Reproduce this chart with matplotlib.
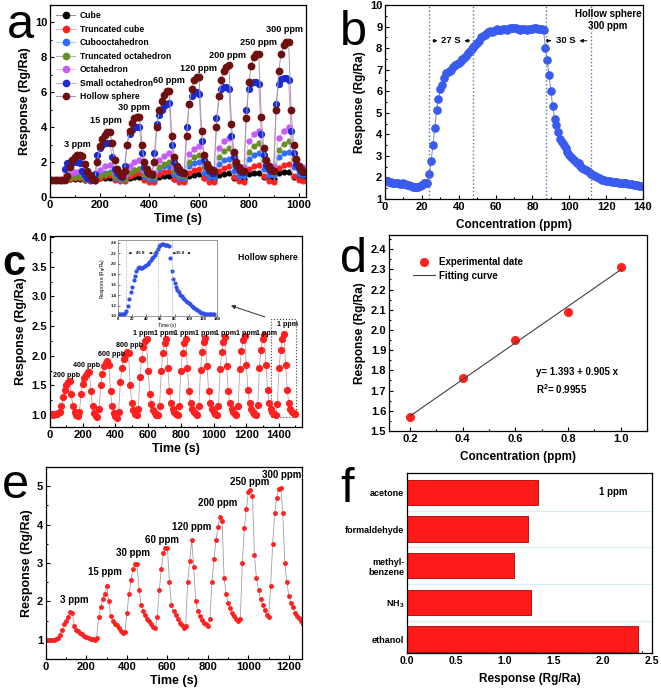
import numpy as np
import matplotlib
matplotlib.use("Agg")
from matplotlib import pyplot as plt
from matplotlib.ticker import MultipleLocator

plt.rcParams['font.family'] = ['Liberation Sans', 'DejaVu Sans']
plt.rcParams['font.weight'] = 'bold'
plt.rcParams['axes.labelweight'] = 'bold'
plt.rcParams['mathtext.fontset'] = 'custom'
plt.rcParams['mathtext.rm'] = 'Liberation Sans:bold'
plt.rcParams['mathtext.default'] = 'rm'

# ---------------- panel a : shapes, 3-300 ppm ----------------
time_a10 = np.arange(0, 1021, 10)
time_a20 = np.arange(0, 1021, 20)
a_labels = ['3 ppm', '15 ppm', '30 ppm', '60 ppm', '120 ppm', '200 ppm', '250 ppm', '300 ppm']
a_label_x = [109, 226, 339, 480, 598, 714, 838, 944]
a_label_y = [3.0, 4.4, 5.15, 6.7, 7.35, 8.1, 8.85, 9.6]

cube = [1.0, 1.0, 1.0,
        1.0, 1.03, 1.04, 1.05, 1.0, 1.0,
        1.0, 1.07, 1.09, 1.1, 1.02, 1.0,
        1.0, 1.1, 1.13, 1.15, 1.03, 1.0,
        1.0, 1.15, 1.18, 1.2, 1.05, 1.0,
        1.0, 1.22, 1.27, 1.3, 1.08, 1.02,
        1.02, 1.28, 1.33, 1.35, 1.1, 1.03,
        1.03, 1.33, 1.38, 1.4, 1.12, 1.05,
        1.04, 1.37, 1.42, 1.45, 1.15, 1.06,
        1.05]
truncated_cube = [1.0, 1.0, 1.0,
                  1.0, 1.05, 1.08, 1.1, 0.95, 0.92,
                  0.92, 1.1, 1.2, 1.25, 1.0, 0.9,
                  0.9, 1.2, 1.3, 1.35, 1.0, 0.88,
                  0.88, 1.3, 1.42, 1.5, 1.05, 0.88,
                  0.87, 1.4, 1.55, 1.6, 1.1, 0.88,
                  0.86, 1.5, 1.68, 1.75, 1.15, 0.9,
                  0.87, 1.6, 1.78, 1.85, 1.2, 0.92,
                  0.88, 1.65, 1.82, 1.9, 1.2, 0.95,
                  0.92]
cubooctahedron = [1.0, 1.0, 1.0,
                  1.0, 1.15, 1.2, 1.25, 1.05, 1.0,
                  1.0, 1.3, 1.4, 1.45, 1.1, 1.0,
                  1.02, 1.4, 1.55, 1.6, 1.2, 1.05,
                  1.05, 1.6, 1.75, 1.8, 1.3, 1.1,
                  1.1, 1.75, 1.95, 2.0, 1.4, 1.15,
                  1.15, 1.9, 2.1, 2.2, 1.5, 1.2,
                  1.2, 2.2, 2.4, 2.5, 1.6, 1.25,
                  1.25, 2.3, 2.5, 2.6, 1.7, 1.3,
                  1.25]
truncated_octahedron = [1.0, 1.0, 1.0,
                        1.0, 1.08, 1.12, 1.15, 1.05, 1.0,
                        1.0, 1.2, 1.3, 1.35, 1.15, 1.05,
                        1.05, 1.4, 1.52, 1.6, 1.3, 1.15,
                        1.15, 1.7, 1.9, 2.0, 1.5, 1.25,
                        1.2, 2.0, 2.3, 2.4, 1.7, 1.35,
                        1.3, 2.3, 2.65, 2.8, 1.9, 1.45,
                        1.35, 2.6, 2.95, 3.1, 2.1, 1.5,
                        1.4, 2.7, 3.05, 3.2, 2.2, 1.55,
                        1.45]
octahedron = [1.0, 1.0, 1.0,
              1.05, 1.3, 1.45, 1.5, 1.2, 1.05,
              1.1, 1.55, 1.75, 1.85, 1.4, 1.15,
              1.25, 1.8, 2.0, 2.1, 1.55, 1.25,
              1.4, 2.1, 2.35, 2.5, 1.75, 1.4,
              1.45, 2.45, 2.75, 2.9, 1.95, 1.55,
              1.6, 2.8, 3.2, 3.4, 2.2, 1.65,
              1.7, 3.2, 3.6, 3.8, 2.4, 1.75,
              1.8, 3.4, 3.8, 4.0, 2.5, 1.85,
              1.7]
small_octahedron = [1.0, 1.0, 1.0, 1.0, 1.0, 1.0,
                    1.6, 1.95, 2.0, 2.0, 2.0, 2.0, 1.95, 1.5, 1.25, 1.1, 1.05, 1.0,
                    1.3, 2.4, 2.8, 3.0, 3.1, 3.1, 3.1, 2.3, 1.6, 1.35, 1.2, 1.15,
                    1.8, 3.0, 3.6, 3.85, 4.0, 4.0, 4.0, 2.5, 1.7, 1.45, 1.3, 1.25,
                    2.5, 4.2, 4.7, 5.0, 5.2, 5.35, 5.4, 3.0, 2.0, 1.6, 1.45, 1.35,
                    1.35, 4.0, 5.3, 5.8, 5.95, 6.0, 5.9, 3.2, 2.1, 1.7, 1.5, 1.4,
                    1.4, 4.5, 5.8, 6.2, 6.3, 6.3, 6.2, 3.5, 2.3, 1.8, 1.55, 1.45,
                    1.45, 5.0, 6.2, 6.55, 6.6, 6.6, 6.5, 3.6, 2.4, 1.85, 1.6, 1.5,
                    1.5, 5.3, 6.5, 6.75, 6.8, 6.8, 6.7, 3.8, 2.5, 1.9, 1.65, 1.5,
                    1.45]
hollow_sphere = [1.0, 1.0, 1.0, 1.0, 1.0, 1.0,
                 1.0, 1.2, 1.7, 2.1, 2.3, 2.4, 2.4, 2.35, 1.9, 1.5, 1.25, 1.1,
                 1.0, 2.0, 2.9, 3.3, 3.55, 3.7, 3.75, 3.1, 2.1, 1.6, 1.35, 1.2,
                 1.5, 3.0, 3.8, 4.25, 4.5, 4.6, 4.6, 3.0, 2.0, 1.6, 1.4, 1.3,
                 2.0, 4.0, 5.0, 5.5, 5.85, 6.05, 6.1, 3.5, 2.3, 1.8, 1.6, 1.45,
                 1.4, 3.5, 5.3, 6.2, 6.7, 6.85, 6.85, 3.8, 2.4, 1.9, 1.65, 1.55,
                 1.5, 4.0, 5.8, 6.7, 7.2, 7.45, 7.55, 4.2, 2.6, 2.0, 1.7, 1.55,
                 1.5, 4.5, 6.6, 7.5, 8.0, 8.2, 8.2, 4.6, 2.8, 2.1, 1.8, 1.6,
                 1.5, 5.0, 7.2, 8.2, 8.7, 8.9, 8.9, 5.0, 3.0, 2.2, 1.8, 1.6,
                 1.45]

# ---------------- panel b : hollow sphere 300 ppm ----------------
b_x = np.arange(0, 141, 1)
b_y = [1.84, 1.82, 1.8, 1.79, 1.76, 1.74, 1.73, 1.72, 1.71, 1.7,
       1.72, 1.7, 1.66, 1.64, 1.6, 1.57, 1.55, 1.56, 1.58, 1.6,
       1.66, 1.72, 1.76, 1.73, 2.15, 2.75, 3.5, 4.3, 5.15, 5.65,
       6.1, 6.3, 6.6, 6.85, 6.9, 6.95, 7.0, 7.1, 7.2, 7.25,
       7.3, 7.4, 7.5, 7.55, 7.65, 7.75, 7.85, 7.95, 8.05, 8.15,
       8.25, 8.35, 8.5, 8.55, 8.6, 8.65, 8.75, 8.8, 8.75, 8.8,
       8.85, 8.9, 8.85, 8.85, 8.9, 8.9, 8.85, 8.9, 8.95, 8.95,
       8.95, 8.95, 8.9, 8.85, 8.9, 8.9, 8.9, 8.85, 8.9, 8.9,
       8.9, 8.95, 8.95, 8.9, 8.9, 8.9, 8.85, 8.0, 7.45, 6.75,
       6.0, 5.3, 4.7, 4.45, 4.1, 3.8, 3.65, 3.5, 3.35, 3.2,
       3.05, 2.95, 2.85, 2.75, 2.68, 2.65, 2.55, 2.45, 2.38, 2.33,
       2.28, 2.22, 2.15, 2.1, 2.05, 2.0, 1.97, 1.93, 1.9, 1.87,
       1.85, 1.83, 1.82, 1.8, 1.8, 1.78, 1.77, 1.76, 1.75, 1.74,
       1.73, 1.72, 1.71, 1.7, 1.68, 1.67, 1.65, 1.64, 1.62, 1.61,
       1.6]
b_lines = [24, 48, 87.5, 111.5]

# ---------------- panel c : hollow sphere 200 ppb - 1 ppm ----------------
c_t = np.arange(0, 1501, 10)
c_y = [1.02, 1.02, 1.01, 1.02, 1.02, 1.03,
       1.05, 1.15, 1.3, 1.42, 1.5, 1.55, 1.57, 1.35, 1.15, 1.05, 1.0, 0.98,
       1.05, 1.35, 1.52, 1.62, 1.68, 1.72, 1.73, 1.4, 1.15, 1.03, 0.98, 0.97,
       1.1, 1.5, 1.7, 1.82, 1.88, 1.92, 1.85, 1.4, 1.15, 1.03, 0.98, 0.95,
       1.05, 1.55, 1.8, 1.95, 2.02, 2.06, 2.05, 1.5, 1.2, 1.08, 1.02, 1.0,
       1.1, 1.65, 1.95, 2.15, 2.25, 2.28, 1.75, 1.35, 1.18, 1.08, 1.03, 1.0,
       1.0, 1.15, 1.75, 2.05, 2.22, 2.28, 1.8, 1.4, 1.2, 1.1, 1.05, 1.02,
       1.0, 1.15, 1.75, 2.05, 2.22, 2.29, 1.8, 1.4, 1.2, 1.1, 1.05, 1.02,
       1.0, 1.15, 1.76, 2.06, 2.23, 2.30, 1.82, 1.4, 1.2, 1.1, 1.05, 1.02,
       1.0, 1.15, 1.77, 2.07, 2.24, 2.31, 1.82, 1.4, 1.2, 1.1, 1.05, 1.02,
       1.0, 1.16, 1.78, 2.08, 2.26, 2.33, 1.85, 1.42, 1.2, 1.1, 1.05, 1.02,
       1.0, 1.17, 1.8, 2.1, 2.28, 2.35, 1.85, 1.42, 1.2, 1.1, 1.05, 1.02,
       1.0, 1.18, 1.8, 2.1, 2.29, 2.36, 1.85, 1.42, 1.2, 1.1, 1.05, 1.03,
       1.02]
c_labels = ['200 ppb', '400 ppb', '600 ppb', '800 ppb'] + ['1 ppm'] * 8
c_label_x = [101, 223, 375, 487, 575, 700, 825, 950, 1075, 1200, 1325, 1455]
c_label_y = [1.67, 1.84, 2.02, 2.18] + [2.37] * 7 + [2.52]

inset_t = np.arange(0, 137, 2)
inset_y = [1.03, 1.03, 1.03, 1.03, 1.04, 1.05, 1.1, 1.2, 1.32, 1.45,
           1.56, 1.68, 1.77, 1.85, 1.92, 1.93, 1.92, 1.92, 1.93, 1.96,
           1.98, 2.0, 2.03, 2.06, 2.1, 2.13, 2.17, 2.22, 2.28, 2.33,
           2.36, 2.37, 2.37, 2.36, 2.36, 2.35, 2.34, 2.1, 1.85, 1.7,
           1.62, 1.55, 1.5, 1.45, 1.41, 1.38, 1.35, 1.32, 1.29, 1.26,
           1.24, 1.22, 1.2, 1.18, 1.16, 1.13, 1.11, 1.09, 1.07, 1.06,
           1.05, 1.04, 1.03, 1.03, 1.03, 1.03, 1.03, 1.03, 1.03]

# ---------------- panel d : linear fit ----------------
d_conc = [0.2, 0.4, 0.6, 0.8, 1.0]
d_resp = [1.57, 1.76, 1.95, 2.09, 2.31]
fit_a, fit_b = 1.393, 0.905

# ---------------- panel e : 3-300 ppm ----------------
e_t = np.arange(0, 1271, 10)
e_y = [1.0, 0.99, 0.99, 0.99, 1.0, 1.02, 1.05, 1.12, 1.25, 1.42,
       1.5, 1.6, 1.72, 1.7, 1.35, 1.25, 1.22, 1.18, 1.15, 1.1,
       1.08, 1.05, 1.03, 1.02, 1.0, 1.05, 1.6, 1.85, 2.05, 2.2,
       2.4, 2.0, 1.62, 1.5, 1.42, 1.38, 1.3, 1.22, 1.17, 1.2,
       1.7, 2.2, 2.55, 2.85, 2.97, 2.97, 2.3, 1.9, 1.75, 1.65,
       1.55, 1.48, 1.4, 1.33, 1.3, 1.6, 2.3, 2.85, 3.25, 3.38,
       3.38, 2.5, 1.9, 1.75, 1.65, 1.55, 1.45, 1.38, 1.3, 1.35,
       2.5, 3.05, 3.6, 2.9, 2.0, 1.75, 1.62, 1.52, 1.45, 1.4,
       1.36, 1.55, 2.5, 3.1, 3.6, 3.95, 4.2, 4.1, 2.6, 2.2,
       1.95, 1.82, 1.7, 1.62, 1.55, 1.5, 1.55, 3.0, 3.9, 4.4,
       4.85, 4.9, 4.75, 3.2, 2.6, 2.3, 2.05, 1.9, 1.78, 1.65,
       1.6, 2.4, 3.5, 4.3, 4.7, 4.93, 4.95, 4.3, 3.0, 2.5,
       2.15, 1.95, 1.85, 1.7, 1.62, 1.58, 1.5, 1.42]
e_labels = ['3 ppm', '15 ppm', '30 ppm', '60 ppm', '120 ppm', '200 ppm', '250 ppm', '300 ppm']
e_label_x = [138, 291, 428, 571, 719, 848, 1004, 1164]
e_label_y = [2.03, 2.77, 3.26, 3.61, 3.94, 4.57, 5.1, 5.28]

# ---------------- panel f : selectivity ----------------
gases = ['ethanol', 'NH$_3$', 'methyl-\nbenzene', 'formaldehyde', 'acetone']
gas_resp = [2.36, 1.27, 1.09, 1.23, 1.34]


def style(ax, fs=8):
    ax.tick_params(direction='in', which='both', top=False, right=False,
                   labelsize=fs, width=0.8, pad=2)
    ax.tick_params(which='major', length=3)
    ax.tick_params(which='minor', length=1.6)
    for s in ax.spines.values():
        s.set_linewidth(0.9)


def arrow(ax, x0, x1, y, lw=0.7, ms=5):
    # small arrow, head at x1
    ax.annotate('', xy=(x1, y), xytext=(x0, y),
                arrowprops=dict(arrowstyle='-|>', color='black', lw=lw, mutation_scale=ms))


fig = plt.figure(figsize=(6.61, 6.91), dpi=100)

# a
ax = fig.add_axes([0.0756, 0.7149, 0.3873, 0.2779])
series = [
    ('Cube', cube, time_a20, 'black', '#8a96a8', 3.4),
    ('Truncated cube', truncated_cube, time_a20, '#ff2020', '#f2a6b6', 3.4),
    ('Cubooctahedron', cubooctahedron, time_a20, '#2f6bff', '#a6cde6', 3.4),
    ('Truncated octahedron', truncated_octahedron, time_a20, '#6b8e23', '#a8b4c4', 3.4),
    ('Octahedron', octahedron, time_a20, '#c45cf5', '#e3b6f2', 3.6),
    ('Small octahedron', small_octahedron, time_a10, '#1b2bd0', '#e394c6', 4.2),
    ('Hollow sphere', hollow_sphere, time_a10, '#6e1010', '#9a9ab8', 4.6),
]
for name, vals, tt, mc, lc, ms in series:
    ax.plot(tt, vals, '-o', color=lc, mfc=mc, mec=mc, ms=ms, lw=0.7, label=name)
for lab, x, y in zip(a_labels, a_label_x, a_label_y):
    ax.text(x, y, lab, ha='center', va='center', fontsize=6.6)
leg = ax.legend(loc='upper left', frameon=False, fontsize=6.2, handlelength=2.2,
                labelspacing=0.52, borderaxespad=0.35, handletextpad=0.5,
                bbox_to_anchor=(0.0, 1.0))
for h in leg.legend_handles:
    h.set_markersize(4.5)
ax.set_xlim(0, 1030)
ax.set_ylim(0, 11)
ax.xaxis.set_major_locator(MultipleLocator(200))
ax.xaxis.set_minor_locator(MultipleLocator(100))
ax.yaxis.set_major_locator(MultipleLocator(2))
ax.yaxis.set_minor_locator(MultipleLocator(1))
ax.set_xlabel('Time (s)', fontsize=9, labelpad=2)
ax.set_ylabel('Response (Rg/Ra)', fontsize=9, labelpad=3)
style(ax)

# b
ax = fig.add_axes([0.5825, 0.712, 0.3903, 0.2808])
ax.plot(b_x, b_y, '-o', color='#7f8bb0', mfc='#3a5bf0', mec='#3a5bf0', ms=5.2, lw=0.7)
for xv in b_lines:
    ax.axvline(xv, color='#6070a0', ls=':', lw=1.0)
arrow(ax, 24.5, 30, 8.34)
arrow(ax, 47.5, 41.5, 8.34)
ax.text(35.6, 8.34, '27 S', ha='center', va='center', fontsize=6.8)
arrow(ax, 88, 91.5, 8.34)
arrow(ax, 111, 104, 8.34)
ax.text(98, 8.34, '30 S', ha='center', va='center', fontsize=6.8)
ax.text(121, 9.58, 'Hollow sphere', ha='center', va='center', fontsize=7)
ax.text(121, 9.04, '300 ppm', ha='center', va='center', fontsize=7)
ax.set_xlim(0, 140)
ax.set_ylim(1, 10)
ax.xaxis.set_major_locator(MultipleLocator(20))
ax.xaxis.set_minor_locator(MultipleLocator(10))
ax.yaxis.set_major_locator(MultipleLocator(1))
ax.yaxis.set_minor_locator(MultipleLocator(0.5))
ax.set_xlabel('Concentration (ppm)', fontsize=8.5, labelpad=5)
ax.set_ylabel('Response (Rg/Ra)', fontsize=8.5, labelpad=3)
style(ax)

# c
ax = fig.add_axes([0.0756, 0.3821, 0.3812, 0.2764])
ax.plot(c_t, c_y, '-o', color='#c0a0a0', mfc='#ff2020', mec='#ff2020', ms=4.2, lw=0.6)
for lab, x, y in zip(c_labels, c_label_x, c_label_y):
    ax.text(x, y, lab, ha='center', va='center', fontsize=5.1)
ax.text(1329, 3.65, 'Hollow sphere', ha='center', va='center', fontsize=6.2)
ax.add_patch(plt.Rectangle((1352, 0.97), 150, 1.65, fill=False, ls=':', lw=0.8, ec='#404040'))
ax.annotate('', xy=(1090, 2.86), xytext=(1330, 2.64),
            arrowprops=dict(arrowstyle='-|>', color='#303030', lw=0.7, mutation_scale=6))
ax.set_xlim(0, 1540)
ax.set_ylim(0.8, 4.02)
ax.xaxis.set_major_locator(MultipleLocator(200))
ax.xaxis.set_minor_locator(MultipleLocator(100))
ax.yaxis.set_major_locator(MultipleLocator(0.5))
ax.yaxis.set_minor_locator(MultipleLocator(0.25))
ax.yaxis.set_major_formatter('{x:.1f}')
ax.set_xlabel('Time (s)', fontsize=9, labelpad=2)
ax.set_ylabel('Response (Rg/Ra)', fontsize=9, labelpad=3)
style(ax)

# c inset
ax = fig.add_axes([0.1785, 0.5427, 0.1498, 0.11])
ax.plot(inset_t, inset_y, 'o', mfc='#2f4fe8', mec='#2f4fe8', ms=2.0)
for xv in [11, 56, 76]:
    ax.axvline(xv, color='#8090b0', ls=':', lw=0.6)
arrow(ax, 11.5, 24, 2.2, lw=0.4, ms=3)
arrow(ax, 55.5, 40, 2.2, lw=0.4, ms=3)
ax.text(32, 2.2, '45 S', ha='center', va='center', fontsize=3)
arrow(ax, 76.5, 82, 2.2, lw=0.4, ms=3)
arrow(ax, 105, 94, 2.2, lw=0.4, ms=3)
ax.text(88, 2.2, '35 S', ha='center', va='center', fontsize=3)
ax.set_xlim(0, 140)
ax.set_ylim(1.0, 2.45)
ax.xaxis.set_major_locator(MultipleLocator(20))
ax.yaxis.set_major_locator(MultipleLocator(0.2))
ax.yaxis.set_major_formatter('{x:.1f}')
ax.tick_params(direction='in', labelsize=3, length=1.5, width=0.4, pad=1)
for s in ax.spines.values():
    s.set_linewidth(0.5)
    s.set_color('#707070')
ax.set_xlabel('Time (s)', fontsize=3.5, labelpad=1, fontweight='normal')
ax.set_ylabel('Response (R$_g$/R$_a$)', fontsize=3.5, labelpad=1, fontweight='normal')

# d
ax = fig.add_axes([0.5885, 0.3763, 0.3903, 0.2836])
ax.plot(d_conc, d_resp, 'o', color='#ff2020', ms=5.5, label='Experimental date')
fit_x = np.array([d_conc[0], d_conc[-1]])
ax.plot(fit_x, fit_a + fit_b * fit_x, '-', color='#404040', lw=0.8, label='Fitting curve')
ax.text(0.68, 1.793, 'y= 1.393 + 0.905 x', ha='left', va='center', fontsize=7)
ax.text(0.68, 1.706, 'R$^2$= 0.9955', ha='left', va='center', fontsize=7)
ax.legend(loc='upper left', bbox_to_anchor=(0.06, 0.93), frameon=False, fontsize=7,
          handlelength=2.2, labelspacing=0.35, handletextpad=0.5)
ax.set_xlim(0.12, 1.1)
ax.set_ylim(1.5, 2.47)
ax.xaxis.set_major_locator(MultipleLocator(0.2))
ax.xaxis.set_minor_locator(MultipleLocator(0.1))
ax.yaxis.set_major_locator(MultipleLocator(0.1))
ax.yaxis.set_minor_locator(MultipleLocator(0.05))
ax.xaxis.set_major_formatter('{x:.1f}')
ax.yaxis.set_major_formatter('{x:.1f}')
ax.set_xlabel('Concentration (ppm)', fontsize=8.5, labelpad=5)
ax.set_ylabel('Response (Rg/Ra)', fontsize=8.5, labelpad=3)
style(ax)

# e
ax = fig.add_axes([0.0696, 0.0463, 0.3873, 0.2779])
ax.plot(e_t, e_y, '-o', color='#a0a0a0', mfc='#ff2020', mec='#ff2020', ms=2.5, lw=0.6)
for lab, x, y in zip(e_labels, e_label_x, e_label_y):
    ax.text(x, y, lab, ha='center', va='center', fontsize=7)
ax.set_xlim(0, 1265)
ax.set_ylim(0.5, 5.5)
ax.xaxis.set_major_locator(MultipleLocator(200))
ax.xaxis.set_minor_locator(MultipleLocator(100))
ax.yaxis.set_major_locator(MultipleLocator(1))
ax.yaxis.set_minor_locator(MultipleLocator(0.5))
ax.set_xlabel('Time (s)', fontsize=9, labelpad=2)
ax.set_ylabel('Response (Rg/Ra)', fontsize=9, labelpad=3)
style(ax)

# f
ax = fig.add_axes([0.6157, 0.055, 0.3707, 0.2605])
ypos = np.arange(len(gases))
for yg in ypos[:-1] + 0.5:
    ax.axhline(yg, color='#d8eef4', lw=0.8, zorder=0)
ax.barh(ypos, gas_resp, height=0.69, color='#ff1a1a', edgecolor='#b00000', lw=0.6, zorder=2)
ax.set_yticks(ypos)
ax.set_yticklabels(gases, fontsize=6.5)
ax.text(2.1, 4.0, '1 ppm', ha='center', va='center', fontsize=7)
ax.set_xlim(0, 2.5)
ax.set_ylim(-0.38, 4.53)
ax.xaxis.set_major_locator(MultipleLocator(0.5))
ax.xaxis.set_minor_locator(MultipleLocator(0.1))
ax.xaxis.set_major_formatter('{x:.1f}')
ax.set_xlabel('Response (Rg/Ra)', fontsize=8.5, labelpad=5)
style(ax, fs=7.5)
ax.tick_params(axis='y', length=0, labelsize=6.5)

# panel letters
for letter, x, y, fw, fs in [('a', 7, 38, 'normal', 35), ('b', 340, 45, 'normal', 35),
                             ('c', 2, 275, 'bold', 30), ('d', 340, 272, 'normal', 35),
                             ('e', 2, 498, 'normal', 35), ('f', 340, 502, 'normal', 35)]:
    fig.text(x / 661, 1 - y / 691, letter, fontsize=fs, fontweight=fw, va='baseline', ha='left')

fig.savefig('out.png', dpi=100)
